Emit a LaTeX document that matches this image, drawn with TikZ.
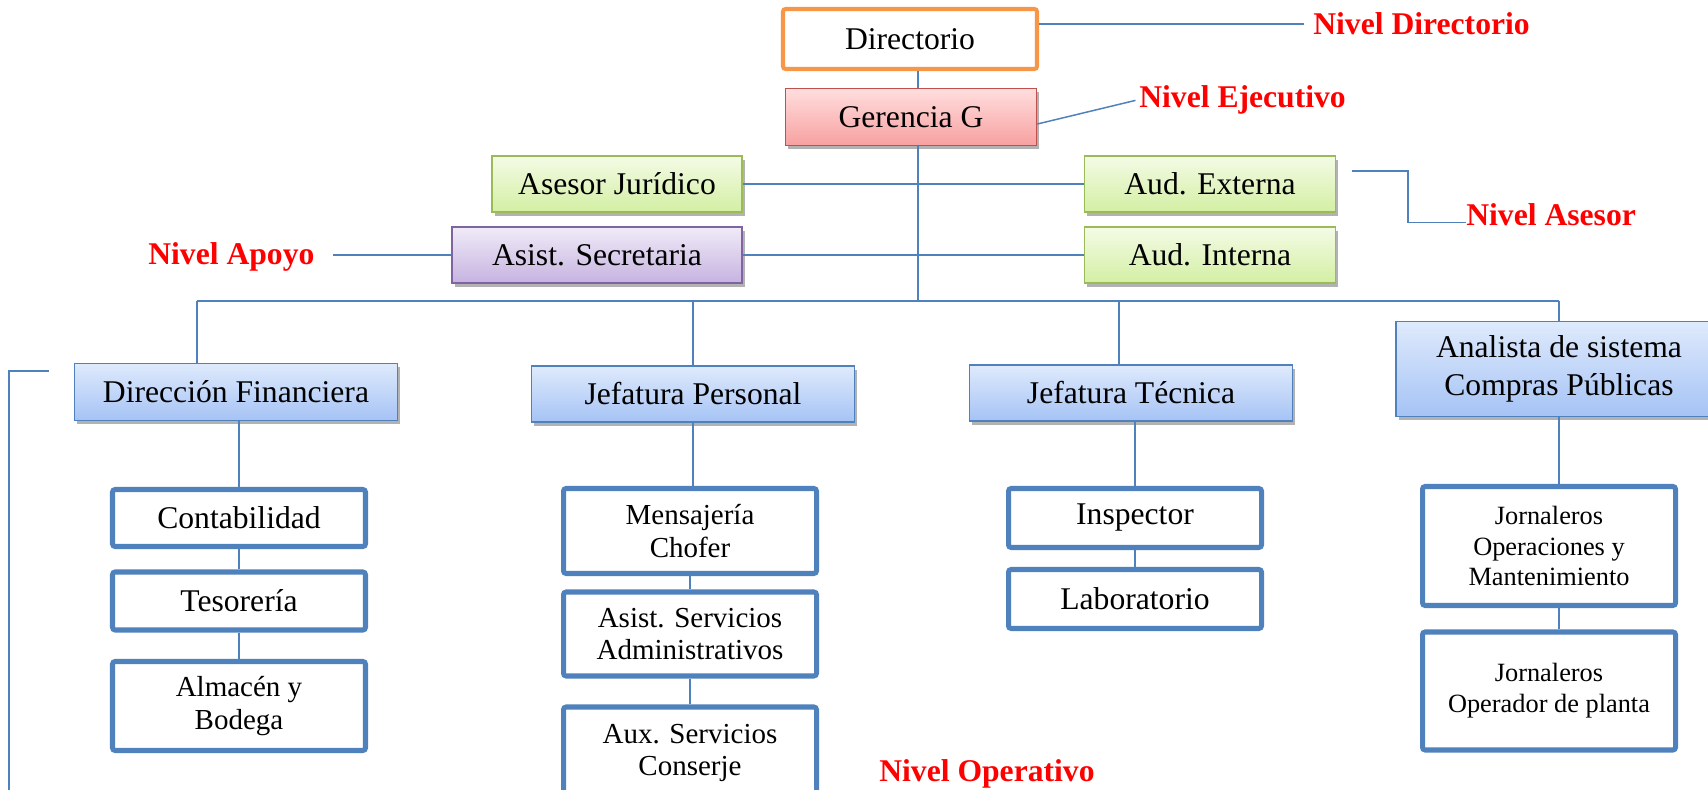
\documentclass[tikz,border=0pt]{standalone}
\usepackage{fontspec}
\setmainfont{Liberation Serif}
\usepackage{xcolor}
\usetikzlibrary{shadows}

\definecolor{lineblue}{HTML}{4F81BD}
\definecolor{dirorange}{HTML}{F79646}
\definecolor{gerred}{HTML}{C0504D}
\definecolor{gertop}{HTML}{FFDEDE}
\definecolor{gerbot}{HTML}{F8A0A0}
\definecolor{asegreen}{HTML}{9BBB59}
\definecolor{asetop}{HTML}{F4FBE6}
\definecolor{asebot}{HTML}{D3EFA3}
\definecolor{suppurple}{HTML}{8064A2}
\definecolor{suptop}{HTML}{F0EBF8}
\definecolor{supbot}{HTML}{C6B3E0}
\definecolor{headtop}{HTML}{DFEAFC}
\definecolor{headbot}{HTML}{A5C3F5}

\tikzset{
  wh/.style 2 args={minimum width=#1*0.02cm, minimum height=#2*0.02cm},
  box/.style={draw, inner sep=0pt, align=center, font=\fontsize{18}{21.5}\selectfont},
  shade/.style={drop shadow={shadow xshift=1.5pt, shadow yshift=-2pt, opacity=0.3, fill=black}},
  dirbox/.style={box, draw=dirorange, line width=2.3pt, fill=white, rounded corners=1.5pt},
  gerbox/.style={box, shade, draw=gerred, line width=0.9pt, top color=gertop, bottom color=gerbot},
  asebox/.style={box, shade, draw=asegreen, line width=0.9pt, top color=asetop, bottom color=asebot},
  supbox/.style={box, shade, draw=suppurple, line width=0.9pt, top color=suptop, bottom color=supbot},
  headbox/.style={box, shade, draw=lineblue, line width=0.9pt, top color=headtop, bottom color=headbot},
  unitbox/.style={box, draw=lineblue, line width=2.85pt, fill=white, rounded corners=1.5pt},
  txtmid/.style={font=\fontsize{16.5}{18.6}\selectfont},
  txtsmall/.style={font=\fontsize{15}{17.6}\selectfont},
  nivel/.style={text=red, inner sep=0pt, anchor=base west, font=\fontsize{18}{20}\selectfont\bfseries},
  conn/.style={draw=lineblue, line width=0.85pt},
}

\begin{document}
\begin{tikzpicture}[x=0.02cm, y=0.02cm]
\useasboundingbox (0,0) rectangle (1708,-790);

% alta direccion
\node[dirbox, wh={254}{60}] (dir) at (910,-39) {Directorio};
\node[gerbox, wh={251}{57}] (ger) at (911,-117) {Gerencia G};
\node[asebox, wh={250}{56}] (asesor) at (617,-184) {Asesor Jurídico};
\node[supbox, wh={290}{56}] (secre) at (597,-255) {Asist. Secretaria};
\node[asebox, wh={251}{56}] (audext) at (1210,-184) {Aud. Externa};
\node[asebox, wh={251}{56}] (audint) at (1210,-255) {Aud. Interna};

% jefaturas
\node[headbox, wh={323}{57}] (dirfin) at (236,-392) {Dirección Financiera};
\node[headbox, wh={323}{56}] (jefper) at (693,-394) {Jefatura Personal};
\node[headbox, wh={323}{56}] (jeftec) at (1131,-393) {Jefatura Técnica};
\node[headbox, wh={326}{95}] (analista) at (1559,-369) {Analista de sistema\\Compras Públicas};

% unidades
\node[unitbox, wh={253}{57}] (conta) at (239,-518) {Contabilidad};
\node[unitbox, wh={253}{58}] (teso) at (239,-601) {Tesorería};
\node[unitbox, txtmid, wh={253}{89}] (almacen) at (239,-706) {Almacén y\\Bodega};
\node[unitbox, txtmid, wh={253}{85}] (mensa) at (690,-531) {Mensajería\\Chofer};
\node[unitbox, txtmid, wh={253}{84}] (asistserv) at (690,-634) {Asist. Servicios\\Administrativos};
\node[unitbox, txtmid, wh={253}{92}] (auxserv) at (690,-753) {Aux. Servicios\\Conserje};
\node[unitbox, wh={253}{59}] (insp) at (1135,-518) {Inspector};
\node[unitbox, wh={253}{59}] (labo) at (1135,-599) {Laboratorio};
\node[unitbox, txtsmall, wh={253}{119}] (jorn1) at (1549,-546) {Jornaleros\\Operaciones y\\Mantenimiento};
\node[unitbox, txtsmall, wh={253}{118}] (jorn2) at (1549,-691) {Jornaleros\\Operador de planta};

% niveles
\node[nivel] (lvdir) at (1313,-35) {Nivel Directorio};
\node[nivel] (lvejec) at (1139,-108) {Nivel Ejecutivo};
\node[nivel] (lvases) at (1466,-226) {Nivel Asesor};
\node[nivel] (lvapoyo) at (148,-265) {Nivel Apoyo};
\node[nivel] (lvoper) at (879,-781) {Nivel Operativo};

\coordinate (trunk) at (918,-301);
\coordinate (busL) at (197,-301);
\coordinate (busT) at (1119,-301);
\coordinate (aselink) at (1352,-171);
\coordinate (brk) at (49,-371);

\draw[conn] (trunk |- dir.south) -- (trunk |- ger.north);
\draw[conn] (trunk |- ger.south) -- (trunk);
\draw[conn] (asesor.east) -- (audext.west);
\draw[conn] (secre.east) -- (audint.west);
\draw[conn] (busL) -- (busL -| analista.north);
\draw[conn] (busL) -- (busL |- dirfin.north);
\draw[conn] (jefper.north |- busL) -- (jefper.north);
\draw[conn] (busT) -- (busT |- jeftec.north);
\draw[conn] (analista.north |- busL) -- (analista.north);

\draw[conn] (conta.north |- dirfin.south) -- (conta.north);
\draw[conn] (conta.south) -- (teso.north);
\draw[conn] (teso.south) -- (almacen.north);
\draw[conn] (jefper.south) -- (jefper.south |- mensa.north);
\draw[conn] (mensa.south) -- (asistserv.north);
\draw[conn] (asistserv.south) -- (auxserv.north);
\draw[conn] (insp.north |- jeftec.south) -- (insp.north);
\draw[conn] (insp.south) -- (labo.north);
\draw[conn] (analista.south) -- (analista.south |- jorn1.north);
\draw[conn] (jorn1.south -| analista.south) -- (jorn2.north -| analista.south);

\draw[conn] (dir.east |- lvdir.west) -- ([xshift=-5pt]lvdir.west);
\draw[conn] ([yshift=-4pt]ger.east) -- ([xshift=-2pt]lvejec.west);
\draw[conn] (aselink) -- ++(56,0) |- ([yshift=2pt]lvases.base west);
\draw[conn] (secre.west) -- ++(-118,0);
\draw[conn] (brk) -- ++(-40,0) -- ++(0,-440);
\end{tikzpicture}
\end{document}
